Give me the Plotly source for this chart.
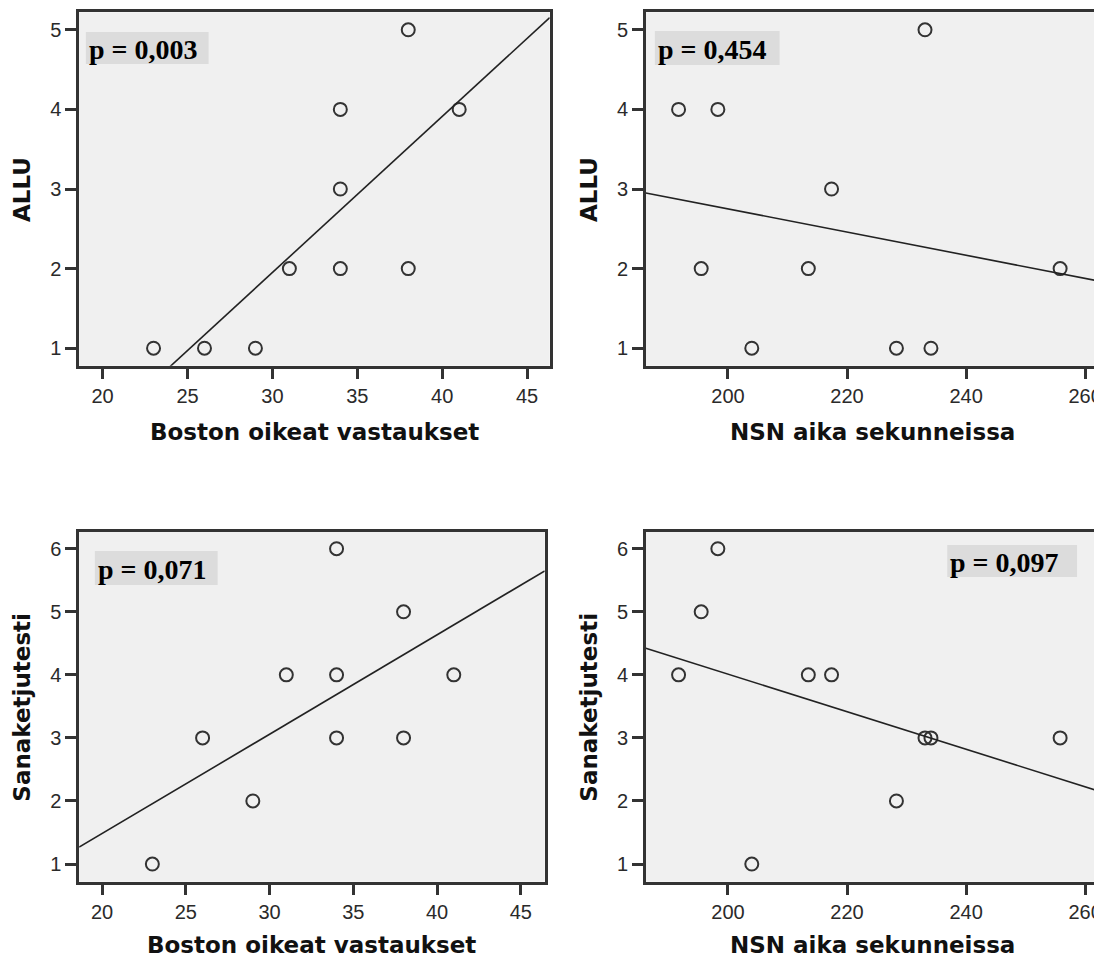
import numpy as np
import plotly.graph_objects as go

# ---- data (one entry per subject) ----
boston = [23, 26, 29, 31, 34, 34, 34, 38, 38, 41]
nsn = [204.0, 234.1, 228.3, 213.5, 198.3, 217.4, 255.8, 195.5, 233.1, 191.7]
allu = [1, 1, 1, 2, 4, 3, 2, 2, 5, 4]
sana = [1, 3, 2, 4, 6, 4, 3, 5, 3, 4]

p_labels = ["p = 0,003", "p = 0,454", "p = 0,071", "p = 0,097"]
x_titles = ["Boston oikeat vastaukset", "NSN aika sekunneissa",
            "Boston oikeat vastaukset", "NSN aika sekunneissa"]
y_titles = ["ALLU", "ALLU", "Sanaketjutesti", "Sanaketjutesti"]
boston_ticks = [20, 25, 30, 35, 40, 45]
nsn_ticks = [200, 220, 240, 260]
allu_ticks = [1, 2, 3, 4, 5]
sana_ticks = [1, 2, 3, 4, 5, 6]

# page body has an 8px margin; figure is sized to fill the rest of the window
OFF = 8
W, H = 1102 - OFF, 963 - OFF


def fx(p):
    return min(1.0, max(0.0, (p - OFF) / W))


def fy(p):
    return min(1.0, max(0.0, 1 - (p - OFF) / H))


panels = [
    dict(x=boston, y=allu, xr=[18.62, 46.33], yr=[0.78, 5.22], xd=(79.3, 550.7), yd=(12.3, 365.7),
         xt=boston_ticks, yt=allu_ticks, box=(86, 209, 32, 64), right=True,
         ytx=22, xty=432),
    dict(x=nsn, y=allu, xr=[186.2, 262.5], yr=[0.78, 5.22], xd=(647.0, 1102.0), yd=(12.3, 365.7),
         xt=nsn_ticks, yt=allu_ticks, box=(656, 781, 31, 65), right=False,
         ytx=590, xty=432),
    dict(x=boston, y=sana, xr=[18.63, 46.43], yr=[0.72, 6.27], xd=(79.3, 545.7), yd=(531.7, 881.7),
         xt=boston_ticks, yt=sana_ticks, box=(95, 218, 551, 585), right=True,
         ytx=22, xty=945),
    dict(x=nsn, y=sana, xr=[186.2, 262.5], yr=[0.72, 6.27], xd=(647.0, 1102.0), yd=(531.7, 881.7),
         xt=nsn_ticks, yt=sana_ticks, box=(949, 1079, 545, 577), right=False,
         ytx=590, xty=945),
]

fig = go.Figure()
line_col = "#333333"
tick_font = dict(family="Liberation Sans, Arial, sans-serif", size=20, color="#2a2a2a")
title_font = dict(family="DejaVu Sans, Verdana, sans-serif", size=23, color="#111111")

for i, pn in enumerate(panels):
    n = i + 1
    xa = "x" if n == 1 else f"x{n}"
    ya = "y" if n == 1 else f"y{n}"
    # scatter points
    fig.add_trace(go.Scatter(
        x=pn["x"], y=pn["y"], mode="markers", xaxis=xa, yaxis=ya,
        marker=dict(symbol="circle-open", size=13, color="#333333", line=dict(width=2)),
        showlegend=False, hoverinfo="x+y"))
    # regression line computed from the data
    slope, intercept = np.polyfit(np.array(pn["x"], float), np.array(pn["y"], float), 1)
    lx = np.array(pn["xr"])
    fig.add_trace(go.Scatter(
        x=lx, y=slope * lx + intercept, mode="lines", xaxis=xa, yaxis=ya,
        line=dict(color="#222222", width=1.6), showlegend=False, hoverinfo="skip"))

    axis_common = dict(showgrid=False, zeroline=False, showline=True, linecolor=line_col,
                       linewidth=2.5, ticks="outside", ticklen=11, tickwidth=2.5,
                       tickcolor=line_col, tickfont=tick_font, ticklabeloverflow="allow")
    xkey = "xaxis" if n == 1 else f"xaxis{n}"
    ykey = "yaxis" if n == 1 else f"yaxis{n}"
    fig.update_layout(**{
        xkey: dict(axis_common, domain=[fx(pn["xd"][0]), fx(pn["xd"][1])],
                   range=pn["xr"], tickvals=pn["xt"], anchor=ya, mirror=True),
        ykey: dict(axis_common, domain=[fy(pn["yd"][1]), fy(pn["yd"][0])],
                   range=pn["yr"], tickvals=pn["yt"], anchor=xa,
                   mirror=True if pn["right"] else False),
    })

    # p-value box
    bx0, bx1, by0, by1 = pn["box"]
    fig.add_shape(type="rect", xref="paper", yref="paper",
                  x0=fx(bx0), x1=fx(bx1), y0=fy(by1), y1=fy(by0),
                  fillcolor="#dcdcdc", line=dict(width=0), layer="above")
    fig.add_annotation(xref="paper", yref="paper", x=fx(bx0 + 1), y=fy((by0 + by1) / 2 + 1),
                       xanchor="left", yanchor="middle", showarrow=False,
                       text=f"<b>{p_labels[i]}</b>",
                       font=dict(family="Liberation Serif, Times New Roman, serif", size=28,
                                 color="#000000"))
    # axis titles
    xc = (pn["xd"][0] + min(pn["xd"][1], 1102)) / 2
    fig.add_annotation(xref="paper", yref="paper", x=fx(xc), y=fy(pn["xty"]),
                       xanchor="center", yanchor="middle", showarrow=False,
                       text=f"<b>{x_titles[i]}</b>", font=title_font)
    yc = (pn["yd"][0] + pn["yd"][1]) / 2
    fig.add_annotation(xref="paper", yref="paper", x=fx(pn["ytx"]), y=fy(yc),
                       xanchor="center", yanchor="middle", showarrow=False, textangle=-90,
                       text=f"<b>{y_titles[i]}</b>", font=title_font)

fig.update_layout(width=W, height=H, margin=dict(l=0, r=0, t=0, b=0),
                  paper_bgcolor="white", plot_bgcolor="#f0f0f0", showlegend=False)

fig.write_html("out.html")
